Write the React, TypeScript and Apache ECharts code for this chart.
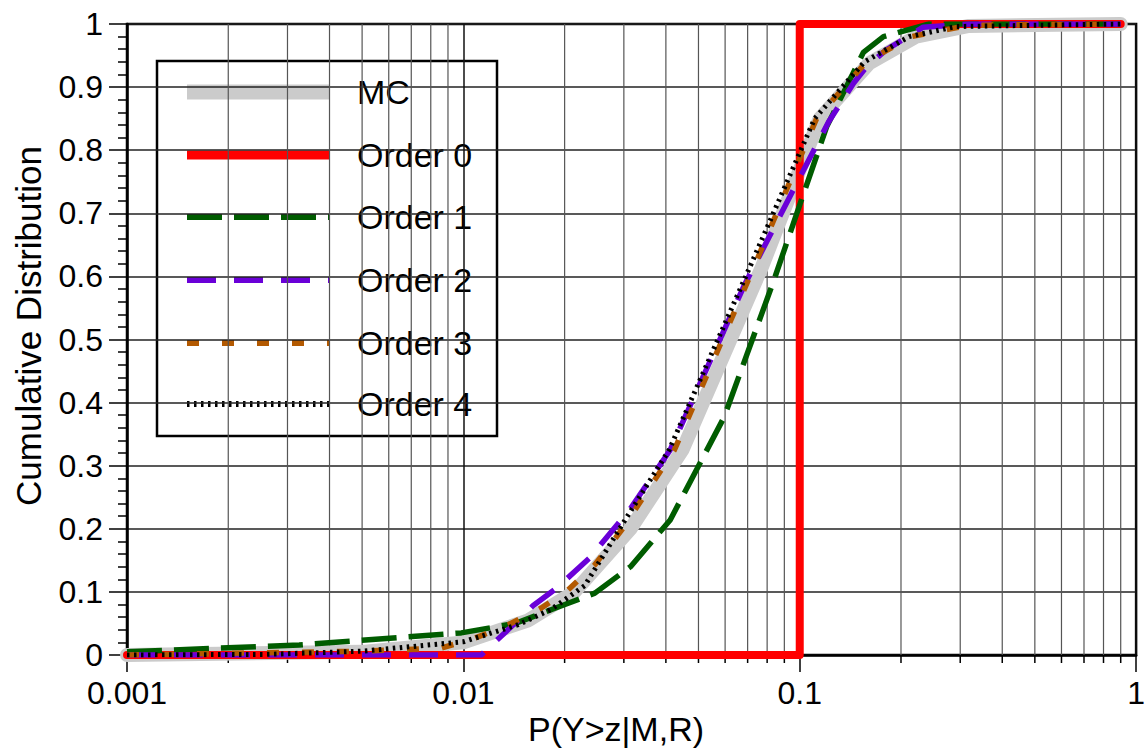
import { useEffect, useRef } from "react";
import * as echarts from "echarts";

// P(Y>z|M,R) values and cumulative probabilities for each curve
const mcX = [0.001, 0.005, 0.01, 0.0156, 0.0214, 0.0314, 0.0448, 0.0772, 0.1146, 0.1611, 0.2218, 0.3184, 0.9];
const mcY = [0.0, 0.005, 0.02, 0.055, 0.1, 0.2, 0.325, 0.615, 0.85, 0.938, 0.98, 0.997, 1.0];

const order0X = [0.001, 0.1, 0.1, 0.9];
const order0Y = [0, 0, 1, 1];

const order1X = [0.001, 0.00325, 0.00986, 0.01425, 0.02004, 0.0246, 0.0314, 0.0412, 0.0596, 0.0838, 0.1028, 0.1202, 0.1546, 0.1774, 0.2425, 0.9];
const order1Y = [0.005, 0.016, 0.035, 0.05, 0.08, 0.098, 0.14, 0.214, 0.377, 0.594, 0.732, 0.837, 0.955, 0.98, 1.0, 1.0];

const order2X = [0.001, 0.0113, 0.0116, 0.0129, 0.01455, 0.0161, 0.01884, 0.02376, 0.0314, 0.0412, 0.0683, 0.081, 0.098, 0.1219, 0.1445, 0.1578, 0.1808, 0.2328, 0.3184, 0.9];
const order2Y = [0, 0, 0.006, 0.029, 0.055, 0.078, 0.105, 0.154, 0.232, 0.325, 0.585, 0.662, 0.748, 0.845, 0.906, 0.932, 0.959, 0.995, 1.0, 1.0];

const order3X = [0.001, 0.005, 0.00861, 0.01085, 0.0136, 0.017, 0.02046, 0.0246, 0.02973, 0.0424, 0.0731, 0.1122, 0.1578, 0.2145, 0.3184, 0.9];
const order3Y = [0.0, 0.006, 0.011, 0.027, 0.048, 0.074, 0.103, 0.143, 0.2, 0.325, 0.615, 0.85, 0.94, 0.98, 0.998, 1.0];

const order4X = [0.001, 0.0026, 0.005, 0.01, 0.01455, 0.0182, 0.02296, 0.02913, 0.0409, 0.0711, 0.1107, 0.1557, 0.2115, 0.2913, 0.9];
const order4Y = [0.0, 0.001, 0.006, 0.021, 0.048, 0.072, 0.11, 0.2, 0.325, 0.615, 0.85, 0.94, 0.98, 0.996, 1.0];

const seriesNames = ["MC", "Order 0", "Order 1", "Order 2", "Order 3", "Order 4"];

// Minor grid positions of the logarithmic x axis (2..9 in every decade)
const minorTickValues = [
  0.002, 0.003, 0.004, 0.005, 0.006, 0.007, 0.008, 0.009,
  0.02, 0.03, 0.04, 0.05, 0.06, 0.07, 0.08, 0.09,
  0.2, 0.3, 0.4, 0.5, 0.6, 0.7, 0.8, 0.9,
];

const xLabels: Record<string, string> = { "-3": "0.001", "-2": "0.01", "-1": "0.1", "0": "1" };

const FONT = "'Liberation Sans', Arial, Helvetica, sans-serif";

type LineLook = { color: string; width: number; dash: number[] | "solid"; cap: "round" | "butt" };

const looks: LineLook[] = [
  { color: "#cbcbcb", width: 14, dash: "solid", cap: "round" },
  { color: "#ff0000", width: 8, dash: "solid", cap: "round" },
  { color: "#005c00", width: 5.5, dash: [35, 12], cap: "butt" },
  { color: "#6a00d8", width: 5.5, dash: [29, 18], cap: "butt" },
  { color: "#b35900", width: 5.5, dash: [12, 23], cap: "butt" },
  { color: "#000000", width: 5, dash: [2.5, 4.5], cap: "butt" },
];

const zip = (xs: number[], ys: number[]) => xs.map((x, i) => [x, ys[i]]);

export default function App() {
  const ref = useRef<HTMLDivElement>(null);

  useEffect(() => {
    if (!ref.current) return;
    const chart = echarts.init(ref.current, undefined, { renderer: "svg" });

    const curves = [
      zip(mcX, mcY),
      zip(order0X, order0Y),
      zip(order1X, order1Y),
      zip(order2X, order2Y),
      zip(order3X, order3Y),
      zip(order4X, order4Y),
    ];

    const lineSeries = curves.map((data, i) => ({
      name: seriesNames[i],
      type: "line",
      data,
      showSymbol: false,
      symbol: "none",
      smooth: false,
      silent: true,
      z: 3 + i,
      lineStyle: {
        color: looks[i].color,
        width: looks[i].width,
        type: looks[i].dash,
        cap: looks[i].cap,
        join: "round",
      },
    }));

    // Legend box
    const legX = 157;
    const legY = 61;
    const rowY = [92, 155, 217, 280, 343, 404];
    const legendChildren: any[] = [
      {
        type: "rect",
        shape: { x: legX, y: legY, width: 340, height: 375 },
        style: { fill: "#ffffff", stroke: "#000000", lineWidth: 2.5 },
      },
    ];
    seriesNames.forEach((name, i) => {
      const lk = looks[i];
      legendChildren.push({
        type: "line",
        shape: { x1: 187, y1: rowY[i], x2: 330, y2: rowY[i] },
        style: {
          stroke: lk.color,
          lineWidth: i === 0 ? 15 : i === 1 ? 9 : 6,
          lineDash: lk.dash === "solid" ? null : lk.dash,
          lineCap: "butt",
        },
      });
      legendChildren.push({
        type: "text",
        x: 357,
        y: rowY[i],
        style: {
          text: name,
          fill: "#000",
          fontSize: 34,
          fontFamily: FONT,
          align: "left",
          verticalAlign: "middle",
        },
      });
    });

    chart.setOption({
      animation: false,
      backgroundColor: "#ffffff",
      grid: {
        left: 127,
        top: 24,
        right: 7,
        bottom: 96,
        show: true,
        backgroundColor: "#ffffff",
        borderColor: "#000",
        borderWidth: 2.5,
      },
      xAxis: {
        type: "log",
        logBase: 10,
        min: 0.001,
        max: 1,
        axisLine: { show: true, onZero: false, lineStyle: { color: "#000", width: 2.5 } },
        axisTick: { show: true, length: 17, lineStyle: { color: "#000", width: 1.5 } },
        axisLabel: {
          margin: 22,
          fontSize: 32,
          fontFamily: FONT,
          color: "#000",
          formatter: (v: number) => xLabels[String(Math.round(Math.log10(v)))] ?? String(v),
        },
        splitLine: { show: true, lineStyle: { color: "#111", width: 1.5 } },
      },
      yAxis: {
        type: "value",
        min: 0,
        max: 1,
        interval: 0.1,
        axisLine: { show: true, lineStyle: { color: "#000", width: 2.5 } },
        axisTick: { show: true, length: 18, lineStyle: { color: "#000", width: 1.5 } },
        minorTick: { show: true, splitNumber: 5, length: 9, lineStyle: { color: "#000", width: 1.5 } },
        axisLabel: {
          margin: 24,
          fontSize: 32,
          fontFamily: FONT,
          color: "#000",
          formatter: (v: number) => (v === 0 ? "0" : v === 1 ? "1" : v.toFixed(1)),
        },
        splitLine: { show: true, lineStyle: { color: "#222", width: 1.5 } },
      },
      series: [
        {
          type: "custom",
          data: minorTickValues.map((v) => [v, 0]),
          clip: false,
          silent: true,
          z: 1,
          renderItem: (_params: any, api: any) => {
            const v = api.value(0);
            const top = api.coord([v, 1]);
            const bottom = api.coord([v, 0]);
            return {
              type: "group",
              children: [
                {
                  type: "line",
                  shape: { x1: top[0], y1: top[1], x2: bottom[0], y2: bottom[1] },
                  style: { stroke: "#555", lineWidth: 1.2 },
                },
                {
                  type: "line",
                  shape: { x1: bottom[0], y1: bottom[1], x2: bottom[0], y2: bottom[1] + 8 },
                  style: { stroke: "#000", lineWidth: 1.5 },
                },
              ],
            };
          },
        },
        ...lineSeries,
      ],
      graphic: [
        { type: "group", z: 100, children: legendChildren },
        {
          type: "text",
          x: 616,
          y: 729,
          z: 100,
          style: {
            text: "P(Y>z|M,R)",
            fill: "#000",
            fontSize: 34,
            fontFamily: FONT,
            align: "center",
            verticalAlign: "middle",
          },
        },
        {
          type: "text",
          x: 28,
          y: 326,
          rotation: Math.PI / 2,
          z: 100,
          style: {
            text: "Cumulative Distribution",
            fill: "#000",
            fontSize: 35,
            fontFamily: FONT,
            align: "center",
            verticalAlign: "middle",
          },
        },
      ],
    });

    return () => chart.dispose();
  }, []);

  return (
    <div
      ref={ref}
      style={{ position: "fixed", left: 0, top: 0, width: 1148, height: 751, background: "#fff" }}
    />
  );
}
